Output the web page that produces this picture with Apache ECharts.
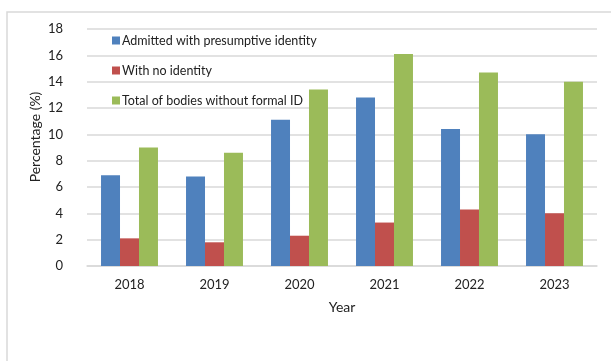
<!DOCTYPE html>
<html>
<head>
<meta charset="utf-8">
<script src="https://cdn.jsdelivr.net/npm/echarts@6/dist/echarts.min.js"></script>
<style>
  html, body { margin: 0; padding: 0; background: #fff; }
  #chart { width: 611px; height: 361px; }
</style>
</head>
<body>
<div id="chart"></div>
<script>
// Identification status of bodies, by year
const years = ['2018', '2019', '2020', '2021', '2022', '2023'];
const presumptive = [6.9, 6.8, 11.1, 12.8, 10.4, 10.0];
const noIdentity = [2.1, 1.8, 2.3, 3.3, 4.3, 4.0];
const totalWithoutId = [9.0, 8.6, 13.4, 16.1, 14.7, 14.0];
const seriesNames = ['Admitted with presumptive identity', 'With no identity', 'Total of bodies without formal ID'];
const yTicks = { min: 0, max: 18, interval: 2 };

const FONT = 'Lato, "Open Sans", sans-serif';
const colors = ['#4F81BD', '#C0504D', '#9BBB59'];

const chart = echarts.init(document.getElementById('chart'), null, { renderer: 'canvas' });

const makeSeries = (name, data, i) => ({
  name,
  type: 'bar',
  data,
  barGap: '0%',
  barCategoryGap: '33%',
  itemStyle: { color: colors[i] },
  emphasis: { disabled: true }
});

chart.setOption({
  animation: false,
  backgroundColor: '#fff',
  textStyle: { fontFamily: FONT },
  grid: { left: 87, right: 14, top: 29, bottom: 95 },
  legend: {
    orient: 'vertical',
    left: 107,
    top: 29,
    itemWidth: 8,
    itemHeight: 8,
    itemGap: 17,
    icon: 'rect',
    textStyle: { fontFamily: FONT, fontSize: 12.5, color: '#222', padding: [0, 0, 0, -3] },
    data: seriesNames
  },
  xAxis: {
    type: 'category',
    data: years,
    name: 'Year',
    nameLocation: 'middle',
    nameGap: 34,
    nameTextStyle: { fontFamily: FONT, fontSize: 14, color: '#222' },
    axisLine: { lineStyle: { color: '#d9d9d9', width: 1.5 } },
    axisTick: { show: false },
    axisLabel: { fontFamily: FONT, fontSize: 13, color: '#222', margin: 12 }
  },
  yAxis: {
    type: 'value',
    min: yTicks.min,
    max: yTicks.max,
    interval: yTicks.interval,
    axisLine: { show: false },
    axisTick: { show: false },
    axisLabel: { fontFamily: FONT, fontSize: 13, color: '#222', margin: 24 },
    splitLine: { lineStyle: { color: '#d9d9d9', width: 1.5 } }
  },
  graphic: [
    {
      type: 'rect',
      silent: true,
      shape: { x: 7, y: 12, width: 700, height: 500 },
      style: { fill: 'none', stroke: '#d9d9d9', lineWidth: 1.5 },
      z: -1
    },
    {
      type: 'text',
      silent: true,
      x: 35,
      y: 137,
      rotation: Math.PI / 2,
      style: {
        text: 'Percentage (%)',
        font: '14px ' + FONT,
        fill: '#222',
        textAlign: 'center',
        textVerticalAlign: 'middle'
      }
    }
  ],
  series: [
    makeSeries(seriesNames[0], presumptive, 0),
    makeSeries(seriesNames[1], noIdentity, 1),
    makeSeries(seriesNames[2], totalWithoutId, 2)
  ]
});
</script>
</body>
</html>
